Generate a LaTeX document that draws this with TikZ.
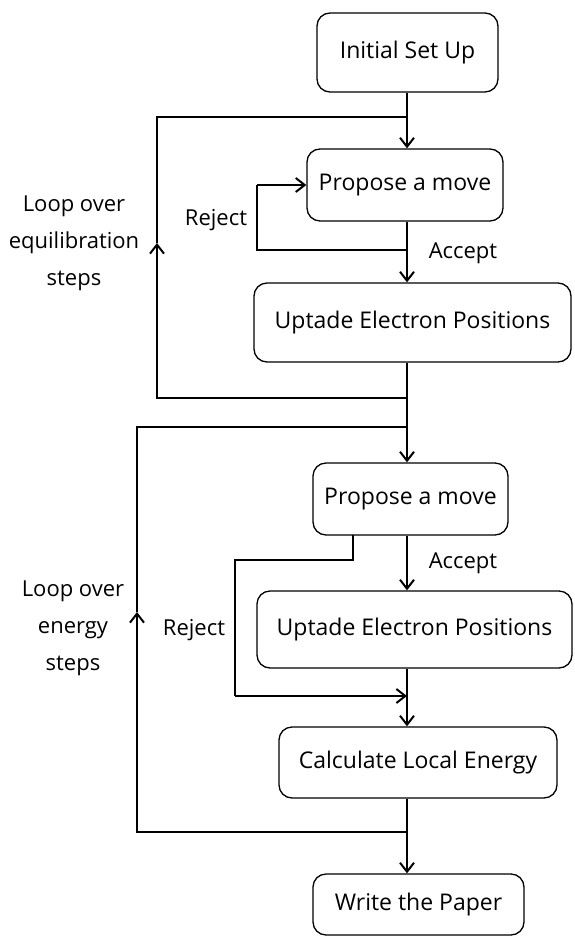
\documentclass[tikz,border=0pt]{standalone}
\usepackage{fontspec}
\setmainfont{Open Sans}
\usetikzlibrary{arrows.meta}
\begin{document}
\begin{tikzpicture}[x=1pt,y=-1pt,
  box/.style={draw, line width=1.3pt, rounded corners=13pt, inner sep=0pt, font=\fontsize{23}{27}\selectfont},
  conn/.style={line width=2.6pt},
  arr/.style={conn, -{Straight Barb[length=9pt,width=14pt,line width=2pt]}},
  lbl/.style={font=\fontsize{22}{37}\selectfont, align=center, inner sep=0pt},
]
\fill[white] (0,0) rectangle (574,937);
\useasboundingbox (0,0) rectangle (574,937);
% boxes
\node[box, minimum width=181pt, minimum height=79pt] (b1) at (407.5,52.5) {Initial Set Up};
\node[box, minimum width=196pt, minimum height=72pt] (b2) at (405,185) {Propose a move};
\node[box, minimum width=317pt, minimum height=79pt] (b3) at (412.5,322.5) {Uptade Electron Positions};
\node[box, minimum width=195pt, minimum height=72pt] (b4) at (410.5,499) {Propose a move};
\node[box, minimum width=315pt, minimum height=77pt] (b5) at (414.5,629.5) {Uptade Electron Positions};
\node[box, minimum width=278pt, minimum height=71pt] (b6) at (418,762.5) {Calculate Local Energy};
\node[box, minimum width=211pt, minimum height=61pt] (b7) at (418.5,904.5) {Write the Paper};
% coordinates
\coordinate (j1) at (407,117);
\coordinate (r1) at (407,250);
\coordinate (r1a) at (257,250);
\coordinate (r1b) at (257,185);
\coordinate (j2) at (407,398);
\coordinate (c2) at (157,398);
\coordinate (u1) at (157,243);
\coordinate (c1) at (157,117);
\coordinate (j3) at (407,427);
\coordinate (c3) at (137,427);
\coordinate (c4) at (137,832);
\coordinate (u2) at (137,612);
\coordinate (j4) at (407,832);
\coordinate (r2s) at (353,535);
\coordinate (r2a) at (353,560);
\coordinate (r2b) at (235,560);
\coordinate (r2c) at (235,696);
\coordinate (j5) at (407,696);
% main flow
\draw[conn] (b1.south -| j1) -- (j1);
\draw[arr] (j1) -- (b2.north -| j1);
\draw[arr] (b2.south -| j1) -- (b3.north -| j1);
\draw[conn] (r1) -- (r1a) -- (r1b);
\draw[arr] (r1b) -- (b2.west);
\draw[conn] (b3.south -| j2) -- (j2) -- (j3);
\draw[arr] (j3) -- (b4.north -| j3);
\draw[arr] (b4.south -| j3) -- (b5.north -| j3);
\draw[conn] (b5.south -| j5) -- (j5);
\draw[arr] (j5) -- (b6.north -| j5);
\draw[conn] (b6.south -| j4) -- (j4);
\draw[arr] (j4) -- (b7.north -| j4);
% loop 1
\draw[arr] (j2) -- (c2) -- (u1);
\draw[conn] (u1) -- (c1) -- (j1);
% loop 2
\draw[arr] (j4) -- (c4) -- (u2);
\draw[conn] (u2) -- (c3) -- (j3);
% reject 2
\draw[conn] (r2s) -- (r2a) -- (r2b) -- (r2c);
\draw[arr] (r2c) -- (j5);
% labels
\node[lbl] (lr1) at (216,220) {Reject};
\node[lbl] (la1) at (463,253) {Accept};
\node[lbl] (ll1) at (74,243) {Loop over\\equilibration\\steps};
\node[lbl] (la2) at (463,563) {Accept};
\node[lbl] (lr2) at (194,630) {Reject};
\node[lbl] (ll2) at (73,628) {Loop over\\energy\\steps};
\end{tikzpicture}
\end{document}
